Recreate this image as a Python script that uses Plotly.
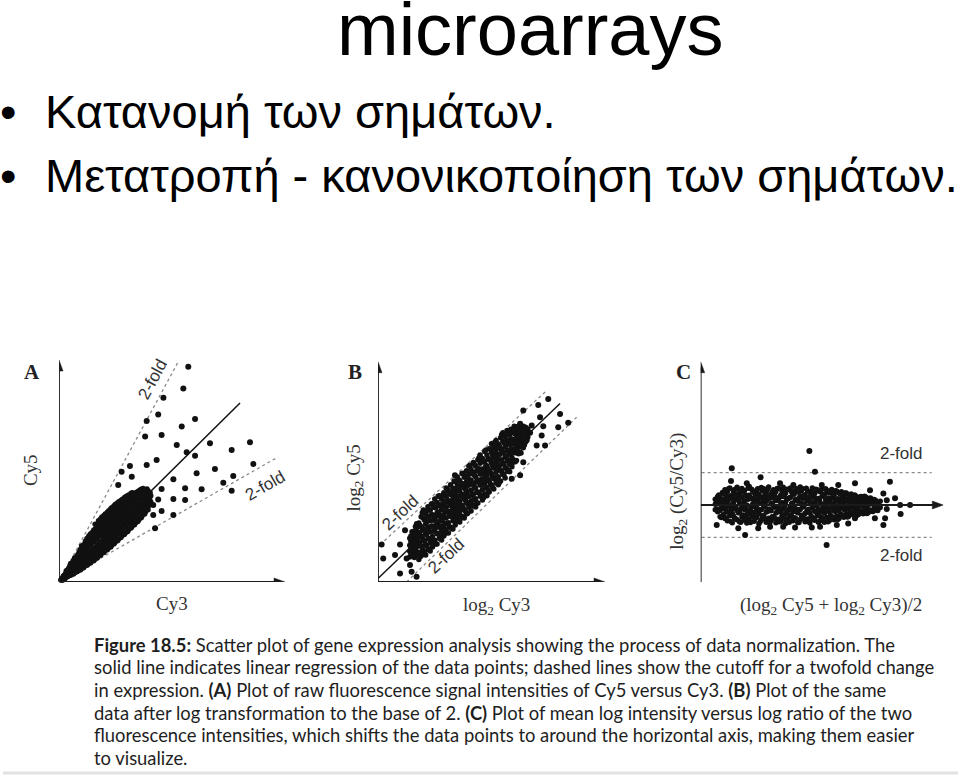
import plotly.graph_objects as go

W, H = 960, 777

# ---------------- text content ----------------
title_text = "microarrays"
bullet_lines = ["Κατανομή των σημάτων.", "Μετατροπή - κανονικοποίηση των σημάτων."]
caption_lines = [
    "<b>Figure 18.5:</b> Scatter plot of gene expression analysis showing the process of data normalization. The",
    "solid line indicates linear regression of the data points; dashed lines show the cutoff for a twofold change",
    "in expression. <b>(A)</b> Plot of raw fluorescence signal intensities of Cy5 versus Cy3. <b>(B)</b> Plot of the same",
    "data after log transformation to the base of 2. <b>(C)</b> Plot of mean log intensity versus log ratio of the two",
    "fluorescence intensities, which shifts the data points to around the horizontal axis, making them easier",
    "to visualize.",
]
panel_letters = ["A", "B", "C"]
fold_label = "2-fold"
a_xtitle, a_ytitle = "Cy3", "Cy5"
b_xtitle, b_ytitle = "log<sub>2</sub> Cy3", "log<sub>2</sub> Cy5"
c_xtitle, c_ytitle = "(log<sub>2</sub> Cy5 + log<sub>2</sub> Cy3)/2", "log<sub>2</sub> (Cy5/Cy3)"

# ---------------- panel A: raw Cy5 vs Cy3 (arbitrary units) ----------------
a_fit = [(0, 0), (80.1, 80.6)]
a_fold_hi = [(0, 0), (52.7, 99.1)]
a_fold_lo = [(0, 0), (96.9, 56.3)]
a_sparse = [(57.2, 97.0), (55.0, 87.2), (46.2, 83.0), (43.9, 75.5), (38.8, 72.5), (60.2, 73.4),
            (54.3, 70.0), (45.4, 66.2), (38.1, 65.5), (66.8, 62.5), (52.1, 61.7), (84.5, 62.9),
            (76.4, 59.5), (56.5, 58.4), (60.2, 56.9), (86.0, 53.2), (31.4, 52.3), (38.8, 52.7),
            (43.2, 55.0), (69.0, 50.9), (60.9, 49.0), (77.1, 47.7), (27.7, 49.7), (50.6, 46.3),
            (55.8, 42.2), (63.1, 41.8), (72.7, 44.7), (76.4, 41.1), (45.4, 41.9), (43.9, 37.2),
            (50.6, 37.4), (55.8, 36.9), (41.7, 34.7), (45.4, 32.0), (50.6, 30.2), (41.7, 30.2),
            (42.5, 24.2), (26.2, 43.7), (32.2, 47.4)]
a_cloud = [(0.8, 0.9), (1.2, 1.6), (1.5, 0.8),
           (2.2, 2.9), (2.6, 1.5), (2.9, 3.8), (2.4, 2.1),
           (3.8, 2.4), (4.1, 4.5), (4.3, 6.2), (3.6, 5.3), (4.6, 3.2),
           (5.3, 3.1), (5.6, 5.0), (5.9, 7.4), (5.2, 8.3), (5.7, 6.1), (6.1, 4.2),
           (6.8, 4.1), (7.1, 6.2), (7.3, 8.6), (6.9, 10.8), (7.6, 5.1), (7.0, 9.7),
           (8.3, 5.0), (8.6, 7.3), (8.8, 9.6), (8.4, 12.4), (8.9, 13.5), (8.7, 11.0), (9.1, 6.1),
           (9.8, 5.8), (10.1, 8.2), (10.3, 10.7), (9.9, 13.1), (10.4, 15.3), (10.6, 7.0), (10.0, 16.2),
           (11.3, 7.2), (11.6, 9.5), (11.8, 12.1), (11.4, 14.6), (11.9, 17.0), (11.7, 18.4), (12.1, 8.4),
           (12.8, 8.0), (13.1, 10.6), (13.3, 13.4), (12.9, 16.0), (13.4, 18.6), (13.2, 20.7), (13.6, 11.9),
           (14.3, 9.2), (14.6, 11.6), (14.8, 14.6), (14.4, 17.4), (14.9, 20.1), (14.7, 22.3), (15.1, 13.0), (14.5, 19.0),
           (15.8, 10.3), (16.1, 12.9), (16.3, 15.8), (15.9, 18.7), (16.4, 21.5), (16.2, 24.0), (16.6, 14.3), (16.0, 26.0),
           (17.3, 11.5), (17.6, 14.4), (17.8, 17.2), (17.4, 20.3), (17.9, 23.1), (17.7, 25.7), (18.1, 15.6), (17.5, 27.6),
           (18.8, 12.9), (19.1, 15.5), (19.3, 18.6), (18.9, 21.8), (19.4, 24.5), (19.2, 27.3), (19.6, 16.9), (19.0, 29.3), (19.5, 20.4),
           (20.3, 14.1), (20.6, 16.9), (20.8, 20.0), (20.4, 23.2), (20.9, 26.0), (20.7, 28.6), (21.1, 18.3), (20.5, 30.6), (21.0, 22.0),
           (21.8, 15.2), (22.1, 18.2), (22.3, 21.4), (21.9, 24.6), (22.4, 27.4), (22.2, 30.0), (22.6, 19.6), (22.0, 32.1), (22.5, 23.2),
           (23.3, 16.6), (23.6, 19.6), (23.8, 22.9), (23.4, 26.0), (23.9, 28.8), (23.7, 31.4), (24.1, 21.0), (23.5, 33.6), (24.0, 25.0),
           (24.8, 18.0), (25.1, 21.0), (25.3, 24.3), (24.9, 27.4), (25.4, 30.1), (25.2, 32.8), (25.6, 22.6), (25.0, 35.0), (25.5, 26.3),
           (26.3, 19.3), (26.6, 22.4), (26.8, 25.6), (26.4, 28.8), (26.9, 31.5), (26.7, 34.1), (27.1, 23.9), (26.5, 36.2), (27.0, 27.6),
           (27.8, 20.8), (28.1, 23.9), (28.3, 27.1), (27.9, 30.1), (28.4, 32.8), (28.2, 35.3), (28.6, 25.4), (28.0, 37.2), (28.5, 29.0),
           (29.3, 22.1), (29.6, 25.3), (29.8, 28.5), (29.4, 31.6), (29.9, 34.2), (29.7, 36.6), (30.1, 26.9), (29.5, 38.4), (30.0, 30.3),
           (30.8, 23.6), (31.1, 26.8), (31.3, 30.0), (30.9, 33.0), (31.4, 35.5), (31.2, 37.8), (31.6, 28.2), (31.0, 39.2),
           (32.3, 25.0), (32.6, 28.1), (32.8, 31.3), (32.4, 34.4), (32.9, 36.9), (32.7, 39.1), (33.1, 29.7), (32.5, 40.2),
           (33.8, 26.6), (34.1, 29.6), (34.3, 32.7), (33.9, 35.6), (34.4, 38.1), (34.2, 40.3), (34.6, 31.1),
           (35.3, 28.0), (35.6, 31.1), (35.8, 34.1), (35.4, 37.0), (35.9, 39.4), (35.7, 41.3), (36.1, 32.6),
           (36.8, 29.8), (37.1, 32.6), (37.3, 35.5), (36.9, 38.3), (37.4, 40.6), (37.2, 42.1),
           (38.3, 31.6), (38.6, 34.2), (38.8, 37.0), (38.4, 39.6), (38.9, 41.9),
           (39.8, 34.5), (40.1, 37.4), (40.3, 40.2)]
a_cloud_fill = [
    (1.9, [1.4, 2.6]), (3.2, [2.2, 3.6, 4.9]), (4.9, [3.0, 4.6, 6.6, 7.6]),
    (6.4, [3.6, 5.5, 7.8, 9.6]), (7.9, [4.6, 6.8, 9.2, 11.6]), (9.4, [5.4, 7.7, 10.2, 12.8, 14.6]),
    (10.9, [6.4, 8.9, 11.6, 14.2, 16.8]), (12.4, [7.5, 10.1, 12.8, 15.5, 18.2, 19.6]),
    (13.9, [8.6, 11.2, 14.0, 16.8, 19.6, 21.6]), (15.4, [9.6, 12.3, 15.2, 18.1, 21.0, 23.4]),
    (16.9, [10.8, 13.6, 16.5, 19.5, 22.4, 25.0]), (18.4, [12.0, 14.8, 17.9, 21.0, 23.9, 26.6, 28.4]),
    (19.9, [13.3, 16.2, 19.2, 22.5, 25.4, 28.1, 30.0]), (21.4, [14.5, 17.5, 20.7, 23.9, 26.8, 29.4, 31.4]),
    (22.9, [15.8, 18.8, 22.1, 25.3, 28.2, 30.8, 33.0]), (24.4, [17.2, 20.3, 23.6, 26.7, 29.5, 32.2, 34.4]),
    (25.9, [18.6, 21.7, 25.0, 28.1, 30.9, 33.5, 35.6]), (27.4, [20.0, 23.1, 26.4, 29.5, 32.3, 34.8, 36.7]),
    (28.9, [21.4, 24.6, 27.8, 30.9, 33.6, 36.0, 37.9]), (30.4, [22.8, 26.0, 29.3, 32.3, 35.0, 37.3, 39.0]),
    (31.9, [24.3, 27.4, 30.6, 33.7, 36.3, 38.6, 40.0]), (33.4, [25.8, 28.9, 32.0, 35.1, 37.6, 39.8]),
    (34.9, [27.3, 30.3, 33.4, 36.4, 38.8, 40.8]), (36.4, [28.9, 31.8, 34.8, 37.7, 40.1, 41.8]),
    (37.9, [30.6, 33.4, 36.3, 39.0, 41.4]), (39.4, [32.5, 35.5, 38.4, 41.1]), (40.6, [36.0, 38.8]),
]

# ---------------- panel B: log2 Cy5 vs log2 Cy3 ----------------
b_fit = [(0.1, 1.7), (80.2, 81.0)]
b_fold_hi = [(0.9, 16.9), (74.3, 86.9)]
b_fold_lo = [(12.6, 0.0), (87.5, 74.8)]
b_sparse = [(75.0, 83.1), (70.6, 80.4), (64.0, 77.8), (80.2, 76.3), (62.6, 71.8), (71.4, 74.8),
            (67.7, 71.0), (72.8, 70.7), (79.4, 70.3), (83.8, 72.3), (67.0, 67.7), (72.1, 66.5),
            (65.5, 64.3), (69.9, 62.0), (73.6, 62.0), (64.0, 54.4), (58.9, 46.9), (62.6, 48.4),
            (33.9, 48.4), (1.6, 17.0), (2.3, 10.7), (7.5, 12.2), (9.7, 17.0), (11.9, 23.5),
            (14.8, 20.0), (9.7, 3.9), (14.8, 4.7), (17.0, 2.4), (12.6, 10.7), (16.3, 15.2),
            (14.1, 7.7), (17.8, 16.7)]
b_cloud_cols = [
    (14, [11.4, 14.0, 16.7, 19.9]), (15, [12.6, 15.4, 18.1, 20.8, 22.8]), (16, [11.1, 14.1, 17.2, 20.1, 23.2]),
    (17, [12.4, 16.0, 19.6, 23.2, 26.4]), (18, [10.2, 13.5, 18.0, 22.5, 26.8]), (19, [11.8, 16.2, 20.5, 25.1, 29.6]),
    (20, [13.9, 19.0, 24.0, 28.9, 32.7]), (21, [12.2, 16.9, 21.7, 26.3, 31.1]), (22, [14.9, 19.8, 24.8, 29.7, 34.2]),
    (23, [14.1, 17.8, 22.8, 27.8, 32.6]), (24, [15.9, 20.7, 25.4, 30.5, 35.5]), (25, [18.9, 24.0, 29.0, 33.9, 37.7]),
    (26, [17.2, 21.9, 26.7, 31.3, 36.1]), (27, [19.9, 24.8, 29.8, 34.7, 39.2]), (28, [19.1, 22.8, 27.8, 32.8, 37.6]),
    (29, [20.9, 25.7, 30.4, 35.5, 40.5]), (30, [23.9, 29.0, 34.0, 38.9, 42.7]), (31, [22.2, 26.9, 31.7, 36.3, 41.1]),
    (32, [24.9, 29.8, 34.8, 39.7, 44.2]), (33, [24.1, 27.8, 32.8, 37.8, 42.6]), (34, [25.9, 30.7, 35.4, 40.5, 45.5]),
    (35, [28.9, 34.0, 39.0, 43.9, 47.7]), (36, [27.2, 31.9, 36.7, 41.3, 46.1]), (37, [29.9, 34.8, 39.8, 44.7, 49.2]),
    (38, [29.1, 32.8, 37.8, 42.8, 47.6]), (39, [30.9, 35.7, 40.4, 45.5, 50.5]), (40, [33.9, 39.0, 44.0, 48.9, 52.7]),
    (41, [32.2, 36.9, 41.7, 46.3, 51.1]), (42, [34.9, 39.8, 44.8, 49.7, 54.2]), (43, [34.1, 37.8, 42.8, 47.8, 52.6]),
    (44, [35.9, 40.7, 45.4, 50.5, 55.5]), (45, [38.9, 44.0, 49.0, 53.9, 57.7]), (46, [37.2, 41.9, 46.7, 51.3, 56.1]),
    (47, [39.9, 44.8, 49.8, 54.7, 59.2]), (48, [39.1, 42.8, 47.8, 52.8, 57.6]), (49, [40.9, 45.7, 50.4, 55.5, 60.5]),
    (50, [43.9, 49.0, 54.0, 58.9, 62.7]), (51, [42.2, 46.9, 51.7, 56.3, 61.1]), (52, [44.9, 49.8, 54.8, 59.7, 64.2]),
    (53, [44.1, 47.8, 52.8, 57.8, 62.6]), (54, [45.9, 50.7, 55.4, 60.5, 65.5]), (55, [48.9, 54.0, 59.0, 63.9, 67.7]),
    (56, [47.2, 51.9, 56.7, 61.3, 66.1]), (57, [50.3, 55.0, 59.7, 64.5, 68.8]), (58, [50.1, 53.5, 58.0, 62.5, 66.9]),
    (59, [52.3, 56.4, 60.5, 64.9, 69.2]), (60, [55.3, 59.6, 63.6, 67.7, 70.7]), (61, [55.2, 58.6, 62.0, 65.4, 68.9]),
    (62, [58.2, 61.3, 64.5, 67.6, 70.5]), (63, [58.6, 63.7, 66.6, 69.5]), (64, [60.9, 64.0, 67.3, 70.7]),
    (65, [63.5, 66.8, 70.2]), (66, [65.8, 69.4]),
    (14.5, [13.0, 15.6, 18.5, 20.9]), (15.5, [11.8, 14.6, 17.7, 20.5]), (16.5, [14.6, 18.4, 21.8, 25.2]),
    (17.5, [13.0, 16.8, 20.7, 25.2]), (18.5, [11.6, 18.2, 22.5, 25.7]), (19.5, [15.4, 20.5, 24.5, 31.4]),
    (20.5, [13.5, 18.4, 23.4, 28.1]), (21.5, [16.5, 21.7, 27.4, 32.3]), (22.5, [14.9, 19.6, 24.8, 29.5]),
    (23.5, [19.7, 25.3, 30.4, 35.4]), (24.5, [18.1, 23.0, 28.0, 33.9]), (25.5, [17.2, 24.8, 29.8, 33.6]),
    (26.5, [22.1, 27.4, 31.7, 38.9]), (27.5, [20.5, 25.4, 30.4, 35.1]), (28.5, [23.5, 28.7, 34.4, 39.3]),
    (29.5, [21.9, 26.6, 31.8, 36.5]), (30.5, [26.7, 32.3, 37.4, 42.4]), (31.5, [25.1, 30.0, 35.0, 40.9]),
    (32.5, [24.2, 31.8, 36.8, 40.6]), (33.5, [29.1, 34.4, 38.7, 45.9]), (34.5, [27.5, 32.4, 37.4, 42.1]),
    (35.5, [30.5, 35.7, 41.4, 46.3]), (36.5, [28.9, 33.6, 38.8, 43.5]), (37.5, [33.7, 39.3, 44.4, 49.4]),
    (38.5, [32.1, 37.0, 42.0, 47.9]), (39.5, [31.2, 38.8, 43.8, 47.6]), (40.5, [36.1, 41.4, 45.7, 52.9]),
    (41.5, [34.5, 39.4, 44.4, 49.1]), (42.5, [37.5, 42.7, 48.4, 53.3]), (43.5, [35.9, 40.6, 45.8, 50.5]),
    (44.5, [40.7, 46.3, 51.4, 56.4]), (45.5, [39.1, 44.0, 49.0, 54.9]), (46.5, [38.2, 45.8, 50.8, 54.6]),
    (47.5, [43.1, 48.4, 52.7, 59.9]), (48.5, [41.5, 46.4, 51.4, 56.1]), (49.5, [44.5, 49.7, 55.4, 60.3]),
    (50.5, [42.9, 47.6, 52.8, 57.5]), (51.5, [47.7, 53.3, 58.4, 63.4]), (52.5, [46.1, 51.0, 56.0, 61.9]),
    (53.5, [45.2, 52.8, 57.8, 61.6]), (54.5, [50.1, 55.4, 59.7, 66.9]), (55.5, [48.5, 53.4, 58.4, 63.1]),
    (56.5, [51.6, 56.7, 62.3, 67.1]), (57.5, [50.6, 54.9, 59.8, 64.2]), (58.5, [55.3, 60.3, 64.9, 69.3]),
    (59.5, [54.4, 58.6, 62.8, 67.7]), (60.5, [54.6, 60.4, 64.3, 67.2]), (61.5, [59.1, 62.8, 65.7, 70.6]),
    (62.5, [59.0, 62.0, 65.0, 67.9]), (63.5, [61.6, 64.5, 67.6, 70.3]), (64.5, [62.2, 64.3, 66.6, 68.8]),
    (65.5, [65.0, 68.6]),
]

# ---------------- panel C: log ratio vs mean log intensity ----------------
c_fold = [1.0, -1.0]
c_fold_x = [0.4, 95.2]
c_sparse = [(44.8, 1.67), (47.1, 1.03), (12.8, 1.14), (12.5, 0.74), (24.7, 0.86), (19.0, 0.67),
            (32.7, 0.67), (38.2, 0.62), (49.9, 0.62), (56.7, 0.62), (63.6, 0.67), (69.8, 0.46),
            (78.0, 0.72), (75.3, 0.36), (80.1, 0.21), (76.7, 0.15), (76.7, -0.12), (82.2, 0.0),
            (86.3, 0.0), (82.4, -0.28), (6.6, -0.62), (15.5, -0.72), (18.3, -0.93), (23.7, -0.72),
            (28.6, -0.67), (34.0, -0.67), (38.9, -0.70), (45.8, -0.70), (49.2, -0.67), (56.1, -0.62),
            (60.8, -0.57), (63.6, -0.41), (71.8, -0.41), (76.0, -0.41), (75.3, -0.62), (51.9, -1.24)]
c_cloud_cols = [
    (6, [-0.15, 0.02, 0.18]), (7, [-0.21, 0.05, 0.26]), (8, [-0.36, -0.17, 0.03, 0.24]),
    (9, [-0.33, -0.09, 0.15, 0.39]), (10, [-0.42, -0.13, 0.19, 0.47]), (11, [-0.49, -0.21, 0.10, 0.41]),
    (12, [-0.33, -0.04, 0.26, 0.53]), (13, [-0.55, -0.26, 0.02, 0.31]), (14, [-0.40, -0.11, 0.18, 0.48]),
    (15, [-0.46, -0.17, 0.22, 0.55]), (16, [-0.52, -0.24, 0.07, 0.36]), (17, [-0.37, -0.07, 0.23, 0.51]),
    (18, [-0.47, -0.14, 0.13, 0.44]), (19, [-0.56, -0.29, 0.00, 0.28]), (20, [-0.43, -0.19, 0.30, 0.57]),
    (21, [-0.31, -0.02, 0.21, 0.49]), (22, [-0.50, -0.23, 0.08, 0.39]), (23, [-0.39, -0.10, 0.16, 0.45]),
    (24, [-0.58, -0.28, 0.04, 0.34]), (25, [-0.45, -0.15, 0.25, 0.54]), (26, [-0.34, -0.06, 0.19, 0.50]),
    (27, [-0.53, -0.22, 0.11, 0.40]), (28, [-0.41, -0.13, 0.28, 0.56]), (29, [-0.48, -0.18, 0.05, 0.33]),
    (30, [-0.36, -0.03, 0.22, 0.47]), (31, [-0.55, -0.25, 0.14, 0.42]), (32, [-0.44, -0.09, 0.18, 0.52]),
    (33, [-0.51, -0.20, 0.02, 0.30]), (34, [-0.38, -0.12, 0.26, 0.55]), (35, [-0.57, -0.27, 0.09, 0.37]),
    (36, [-0.42, -0.16, 0.20, 0.48]), (37, [-0.32, -0.05, 0.24, 0.53]), (38, [-0.49, -0.21, 0.06, 0.35]),
    (39, [-0.40, -0.11, 0.17, 0.46]), (40, [-0.54, -0.24, 0.12, 0.41]), (41, [-0.45, -0.14, 0.29, 0.56]),
    (42, [-0.35, -0.04, 0.21, 0.50]), (43, [-0.52, -0.26, 0.03, 0.32]), (44, [-0.43, -0.17, 0.15, 0.44]),
    (45, [-0.56, -0.23, 0.10, 0.39]), (46, [-0.39, -0.08, 0.24, 0.53]), (47, [-0.47, -0.19, 0.07, 0.36]),
    (48, [-0.33, -0.02, 0.19, 0.47]), (49, [-0.50, -0.22, 0.13, 0.42]), (50, [-0.41, -0.12, 0.27, 0.51]),
    (51, [-0.53, -0.25, 0.04, 0.33]), (52, [-0.38, -0.10, 0.17, 0.45]), (53, [-0.49, -0.20, 0.09, 0.38]),
    (54, [-0.36, -0.07, 0.21, 0.48]), (55, [-0.46, -0.18, 0.05, 0.31]), (56, [-0.35, -0.09, 0.16, 0.43]),
    (57, [-0.42, -0.15, 0.11, 0.37]), (58, [-0.31, -0.04, 0.20, 0.41]), (59, [-0.38, -0.13, 0.08, 0.30]),
    (60, [-0.29, -0.06, 0.17, 0.37]), (61, [-0.35, -0.11, 0.10, 0.30]), (62, [-0.26, -0.03, 0.19, 0.34]),
    (63, [-0.31, -0.09, 0.13]), (64, [-0.22, 0.02, 0.27]), (65, [-0.29, -0.06, 0.17]),
    (66, [-0.20, 0.04, 0.26]), (67, [-0.27, -0.03, 0.19]), (68, [-0.18, 0.07, 0.25]),
    (69, [-0.24, 0.00, 0.20]), (70, [-0.16, 0.06, 0.22]), (71, [-0.20, 0.03]),
    (72, [-0.10, 0.15]), (73, [-0.17, 0.05]), (74, [-0.08, 0.12]),
    (6.5, [-0.12, 0.10]), (7.5, [-0.14, 0.10, 0.31]), (8.5, [-0.39, -0.10, 0.16]),
    (9.5, [-0.29, 0.05, 0.36]), (10.5, [-0.40, -0.05, 0.29]), (11.5, [-0.22, 0.17, 0.50]),
    (12.5, [-0.51, -0.15, 0.21]), (13.5, [-0.34, 0.07, 0.43]), (14.5, [-0.43, -0.06, 0.33]),
    (15.5, [-0.24, 0.15, 0.49]), (16.5, [-0.53, -0.12, 0.23]), (17.5, [-0.31, 0.06, 0.40]),
    (18.5, [-0.42, -0.08, 0.31]), (19.5, [-0.21, 0.18, 0.52]), (20.5, [-0.54, -0.14, 0.20]),
    (21.5, [-0.35, 0.04, 0.42]), (22.5, [-0.40, -0.06, 0.29]), (23.5, [-0.23, 0.16, 0.50]),
    (24.5, [-0.52, -0.15, 0.22]), (25.5, [-0.33, 0.08, 0.44]), (26.5, [-0.44, -0.05, 0.32]),
    (27.5, [-0.20, 0.18, 0.48]), (28.5, [-0.55, -0.13, 0.21]), (29.5, [-0.36, 0.05, 0.41]),
    (30.5, [-0.41, -0.07, 0.30]), (31.5, [-0.22, 0.14, 0.51]), (32.5, [-0.52, -0.16, 0.24]),
    (33.5, [-0.33, 0.07, 0.43]), (34.5, [-0.43, -0.04, 0.31]), (35.5, [-0.24, 0.17, 0.49]),
    (36.5, [-0.53, -0.12, 0.22]), (37.5, [-0.35, 0.05, 0.40]), (38.5, [-0.40, -0.08, 0.33]),
    (39.5, [-0.21, 0.16, 0.50]), (40.5, [-0.54, -0.14, 0.21]), (41.5, [-0.32, 0.06, 0.44]),
    (42.5, [-0.42, -0.06, 0.29]), (43.5, [-0.23, 0.18, 0.52]), (44.5, [-0.51, -0.13, 0.23]),
    (45.5, [-0.34, 0.08, 0.41]), (46.5, [-0.44, -0.05, 0.30]), (47.5, [-0.22, 0.15, 0.49]),
    (48.5, [-0.53, -0.15, 0.20]), (49.5, [-0.36, 0.04, 0.43]), (50.5, [-0.41, -0.07, 0.32]),
    (51.5, [-0.20, 0.17, 0.50]), (52.5, [-0.52, -0.14, 0.22]), (53.5, [-0.32, 0.05, 0.40]),
    (54.5, [-0.38, -0.05, 0.28]), (55.5, [-0.20, 0.15, 0.44]), (56.5, [-0.45, -0.12, 0.19]),
    (57.5, [-0.27, 0.05, 0.34]), (58.5, [-0.32, -0.04, 0.24]), (59.5, [-0.16, 0.12, 0.37]),
    (60.5, [-0.37, -0.10, 0.16]), (61.5, [-0.22, 0.04, 0.28]), (62.5, [-0.27, -0.04, 0.20]),
    (63.5, [-0.14, 0.10, 0.31]), (64.5, [-0.32, -0.08, 0.13]), (65.5, [-0.20, 0.03, 0.24]),
    (66.5, [-0.24, -0.03, 0.17]), (67.5, [-0.12, 0.09, 0.27]), (68.5, [-0.26, -0.07, 0.12]),
    (69.5, [-0.16, 0.03, 0.20]), (70.5, [-0.19, 0.12]), (71.5, [-0.09, 0.17]),
    (72.5, [-0.16, 0.08]), (73.5, [-0.04]),
]

# ---------------- styling / layout helpers ----------------
SANS = "Liberation Sans, Arial, sans-serif"
SERIF = "Liberation Serif, Times New Roman, serif"
CAPF = "Lato, Carlito, Liberation Sans, sans-serif"
INK = "#111111"
DOT = "#8a8a8a"


def px(x):
    return x / W


def py(y):
    return 1 - y / H


fig = go.Figure()

panels = [
    dict(xa="x", ya="y", xd=[59, 285], yd=[582, 360], xr=[0, 100], yr=[0, 100]),
    dict(xa="x2", ya="y2", xd=[378, 605], yd=[582, 361.7], xr=[0, 100], yr=[0, 100]),
    dict(xa="x3", ya="y3", xd=[700.7, 943.3], yd=[582.3, 361.7], xr=[0, 100], yr=[-2.393, 4.437]),
]


def pts(lst):
    return [p[0] for p in lst], [p[1] for p in lst]


def expand(cols):
    return [(x, y) for x, ys in cols for y in ys]


def line_trace(seg, p, dash=None, color=INK, width=1.5):
    xs, ys = pts(seg)
    return go.Scatter(x=xs, y=ys, mode="lines", xaxis=p["xa"], yaxis=p["ya"],
                      line=dict(color=color, width=width, dash=dash), hoverinfo="skip",
                      cliponaxis=False)


def dots(lst, p, size=6):
    xs, ys = pts(lst)
    return go.Scatter(x=xs, y=ys, mode="markers", xaxis=p["xa"], yaxis=p["ya"],
                      marker=dict(size=size, color=INK, line=dict(width=0)), cliponaxis=False)


CLOUD = 5.5
pA, pB, pC = panels
# Panel A
fig.add_trace(line_trace(a_fold_hi, pA, dash="dot", color=DOT, width=1.3))
fig.add_trace(line_trace(a_fold_lo, pA, dash="dot", color=DOT, width=1.3))
fig.add_trace(line_trace(a_fit, pA))
fig.add_trace(dots(a_cloud + expand(a_cloud_fill), pA, CLOUD))
fig.add_trace(dots(a_sparse, pA, 6))
# Panel B
fig.add_trace(line_trace(b_fold_hi, pB, dash="dot", color=DOT, width=1.3))
fig.add_trace(line_trace(b_fold_lo, pB, dash="dot", color=DOT, width=1.3))
fig.add_trace(line_trace(b_fit, pB))
fig.add_trace(dots(expand(b_cloud_cols), pB, CLOUD))
fig.add_trace(dots(b_sparse, pB, 6))
# Panel C
for lvl in c_fold:
    fig.add_trace(line_trace([(c_fold_x[0], lvl), (c_fold_x[1], lvl)], pC, dash="dot", color=DOT, width=1.3))
fig.add_trace(dots(expand(c_cloud_cols), pC, CLOUD))
fig.add_trace(dots(c_sparse, pC, 6))

layout_axes = {}
for i, p in enumerate(panels):
    sx = "" if i == 0 else str(i + 1)
    layout_axes["xaxis" + sx] = dict(domain=[px(p["xd"][0]), px(p["xd"][1])], range=p["xr"],
                                     visible=False, anchor=p["ya"], fixedrange=True)
    layout_axes["yaxis" + sx] = dict(domain=[py(p["yd"][0]), py(p["yd"][1])], range=p["yr"],
                                     visible=False, anchor=p["xa"], fixedrange=True)

shapes = []
AX_COL = "#1a1a1a"
HEAD_L, HEAD_W = 11.0, 8.0


def axis_arrow(p, x0, y0, x1, y1):
    sxp = (p["xd"][1] - p["xd"][0]) / (p["xr"][1] - p["xr"][0])
    syp = (p["yd"][0] - p["yd"][1]) / (p["yr"][1] - p["yr"][0])
    if y0 == y1:  # horizontal, pointing right
        bx = x1 - HEAD_L / sxp
        hw = HEAD_W / 2 / syp
        path = "M%f,%f L%f,%f L%f,%f Z" % (x1, y1, bx, y1 + hw, bx, y1 - hw)
        lx1, ly1 = x1 - HEAD_L / 2 / sxp, y1
    else:  # vertical, pointing up
        by = y1 - HEAD_L / syp
        hw = HEAD_W / 2 / sxp
        path = "M%f,%f L%f,%f L%f,%f Z" % (x1, y1, x1 - hw, by, x1 + hw, by)
        lx1, ly1 = x1, y1 - HEAD_L / 2 / syp
    shapes.append(dict(type="line", xref=p["xa"], yref=p["ya"], x0=x0, y0=y0, x1=lx1, y1=ly1,
                       line=dict(color=AX_COL, width=1.8)))
    shapes.append(dict(type="path", xref=p["xa"], yref=p["ya"], path=path,
                       fillcolor=AX_COL, line=dict(color=AX_COL, width=0.5)))


axis_arrow(pA, 0, 0, 100, 0)
axis_arrow(pA, 0, 0, 0, 100)
axis_arrow(pB, 0, 0, 100, 0)
axis_arrow(pB, 0, 0, 0, 100)
axis_arrow(pC, 0, 0, 100, 0)
axis_arrow(pC, 0, -2.393, 0, 4.437)

ann = []


def dlabel(p, x, y, text, angle):
    ann.append(dict(x=x, y=y, xref=p["xa"], yref=p["ya"], text=text, showarrow=False,
                    textangle=angle, xanchor="center", yanchor="middle",
                    font=dict(family=SANS, size=17, color="#333333")))


dlabel(pA, 41.3, 91.4, fold_label, -61.6)
dlabel(pA, 91.5, 43.4, fold_label, -30)
dlabel(pB, 10.0, 31.5, fold_label, -43)
dlabel(pB, 30.3, 11.9, fold_label, -43)
dlabel(pC, 82.8, 1.58, fold_label, 0)
dlabel(pC, 82.8, -1.55, fold_label, 0)


def ptext(x, y, text, family, size, color="#000000", xanchor="center", angle=0):
    ann.append(dict(x=px(x), y=py(y), xref="paper", yref="paper", text=text, showarrow=False,
                    xanchor=xanchor, yanchor="middle", textangle=angle,
                    font=dict(family=family, size=size, color=color)))


# panel letters
for letter, cx in zip(panel_letters, [32, 355, 683.5]):
    ptext(cx, 372.4, "<b>%s</b>" % letter, SERIF, 21, "#222222")

# axis titles
ptext(171.7, 603.6, a_xtitle, SERIF, 19, "#333333")
ptext(30.1, 470, a_ytitle, SERIF, 19, "#333333", angle=-90)
ptext(496.7, 605.5, b_xtitle, SERIF, 19, "#333333")
ptext(354.5, 478, b_ytitle, SERIF, 19, "#333333", angle=-90)
ptext(830.8, 606, c_xtitle, SERIF, 19, "#333333")
ptext(678, 491.7, c_ytitle, SERIF, 19, "#333333", angle=-90)

# slide title and bullets
ptext(530, 29, title_text, SANS, 74)
for i, line in enumerate(bullet_lines):
    cy = [112.0, 175.4][i]
    ptext(8, cy, "•", SANS, 47)
    ptext(42.5, cy, line, SANS, 47, xanchor="left")

# caption
cap_y = [644.7, 667.3, 689.9, 712.5, 735.1, 757.7]
for line, cy in zip(caption_lines, cap_y):
    ptext(91.5, cy, line, CAPF, 18.4, "#1e1e1e", xanchor="left")

shapes.append(dict(type="line", xref="paper", yref="paper", x0=px(3), x1=px(958), y0=py(773), y1=py(773),
                   line=dict(color="#e2e2e2", width=3)))

fig.update_layout(width=W, height=H, margin=dict(l=0, r=0, t=0, b=0),
                  paper_bgcolor="white", plot_bgcolor="white", showlegend=False,
                  annotations=ann, shapes=shapes, **layout_axes)

fig.write_html("out.html")
